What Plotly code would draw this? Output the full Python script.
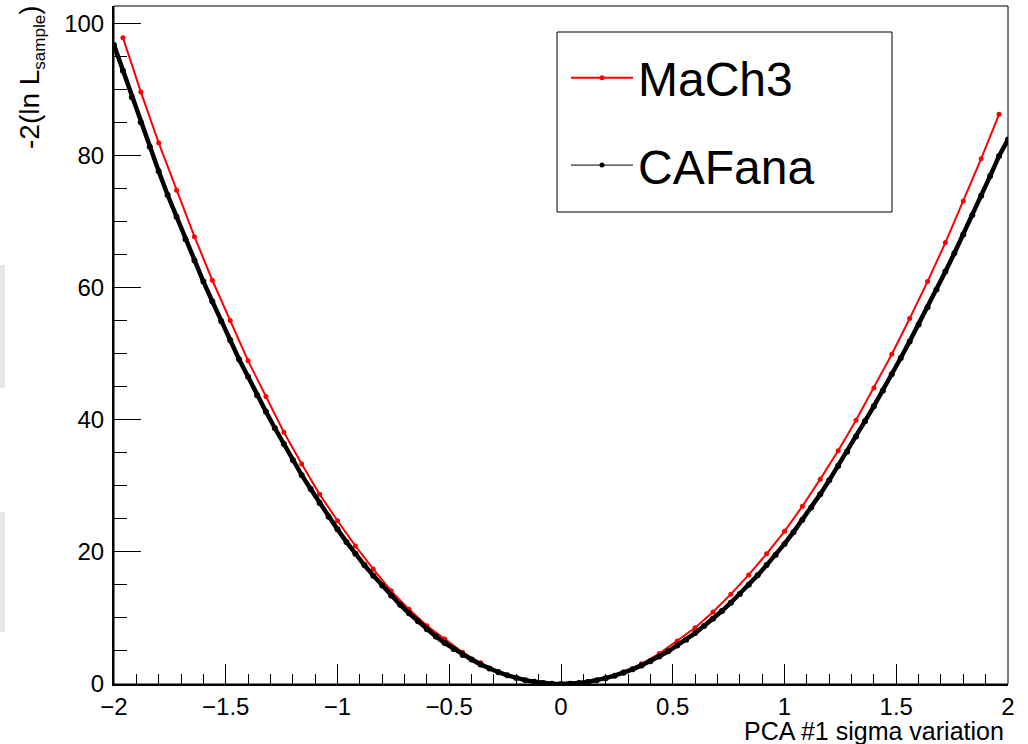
import plotly.graph_objects as go

# ---------------- data ----------------
# MaCh3: 50 bin centres from -1.96 to 1.96 (step 0.08)
mach3_x = [round(-1.96 + 0.08 * i, 2) for i in range(50)]
mach3_y = [97.8, 89.6, 81.9, 74.7, 67.7, 61.1, 55.0, 48.9, 43.5, 38.1,
           33.3, 28.7, 24.7, 20.9, 17.4, 14.1, 11.3, 8.8, 6.8, 4.8,
           3.2, 1.9, 0.97, 0.35, 0.04, 0.04, 0.34, 0.94, 1.84, 3.05,
           4.6, 6.5, 8.5, 10.9, 13.6, 16.5, 19.7, 23.1, 26.9, 31.0,
           35.3, 39.9, 44.8, 49.9, 55.3, 60.9, 66.8, 73.1, 79.5, 86.2]

# CAFana: points from -2 to 2 (step 0.04)
cafana_x = [round(-2.0 + 0.04 * i, 2) for i in range(101)]
cafana_y = [96.7, 92.8, 88.8, 85.0, 81.3, 77.6, 74.0, 70.7, 67.3, 64.1,
            60.9, 57.9, 54.9, 52.0, 49.1, 46.5, 43.7, 41.2, 38.7, 36.3,
            33.9, 31.6, 29.5, 27.4, 25.3, 23.4, 21.5, 19.7, 18.0, 16.4,
            14.9, 13.4, 12.0, 10.7, 9.5, 8.3, 7.2, 6.2, 5.3, 4.4,
            3.7, 2.95, 2.33, 1.78, 1.31, 0.90, 0.58, 0.33, 0.14, 0.04,
            0.0,
            0.035, 0.14, 0.32, 0.56, 0.88, 1.26, 1.71, 2.22, 2.81, 3.46,
            4.18, 4.95, 5.81, 6.71, 7.70, 8.77, 9.87, 11.04, 12.30, 13.63,
            15.03, 16.46, 17.99, 19.54, 21.2, 22.98, 24.84, 26.72, 28.73, 30.82,
            32.98, 35.14, 37.46, 39.77, 42.04, 44.38, 46.87, 49.33, 51.84, 54.4,
            57.02, 59.69, 62.42, 65.20, 68.04, 70.93, 73.87, 76.86, 79.91, 82.4]

series_names = ["MaCh3", "CAFana"]
x_tick_vals = [-2, -1.5, -1, -0.5, 0, 0.5, 1, 1.5, 2]
x_tick_text = ["\u22122", "\u22121.5", "\u22121", "\u22120.5", "0", "0.5", "1", "1.5", "2"]
y_tick_vals = [0, 20, 40, 60, 80, 100]
x_title = "PCA #1 sigma variation"
y_title = "-2(ln L<sub><span style='font-size:17px'>sample</span></sub>)"

FONT = "Liberation Sans, Arial, Helvetica, sans-serif"

# ---------------- geometry ----------------
W, H = 1028, 744
ML, MR, MT, MB = 114, 20, 6, 60
PW, PH = W - ML - MR, H - MT - MB


def px_x(p):
    return (p - ML) / PW


def px_y(p):
    return (H - MB - p) / PH


fig = go.Figure()

fig.add_trace(go.Scatter(
    x=mach3_x, y=mach3_y, mode="lines+markers", name=series_names[0],
    line=dict(color="#ff0000", width=2),
    marker=dict(color="#ff0000", size=5, symbol="circle"),
    legendgroup="a", showlegend=True,
))
fig.add_trace(go.Scatter(
    x=cafana_x, y=cafana_y, mode="lines+markers", name=series_names[1],
    line=dict(color="#000000", width=4.5),
    marker=dict(color="#000000", size=6, symbol="circle"),
    showlegend=False,
))
# legend proxy for CAFana (thin line + dot as in the reference legend)
fig.add_trace(go.Scatter(
    x=[None], y=[None], mode="lines+markers", name=series_names[1],
    line=dict(color="#000000", width=1),
    marker=dict(color="#000000", size=5),
    legendgroup="b", showlegend=True,
))

shapes = [
    dict(type="rect", xref="paper", yref="paper", x0=0, y0=0, x1=1, y1=1,
         line=dict(color="#000000", width=1), fillcolor="rgba(0,0,0,0)", layer="above"),
    dict(type="rect", xref="paper", yref="paper",
         x0=px_x(557), x1=px_x(892), y0=px_y(212), y1=px_y(32),
         line=dict(color="#000000", width=1), fillcolor="white", layer="below"),
    dict(type="rect", xref="paper", yref="paper",
         x0=px_x(0), x1=px_x(5), y0=px_y(388), y1=px_y(265),
         line=dict(width=0), fillcolor="#e3e7ec", layer="below"),
    dict(type="rect", xref="paper", yref="paper",
         x0=px_x(0), x1=px_x(5), y0=px_y(632), y1=px_y(512),
         line=dict(width=0), fillcolor="#e3e7ec", layer="below"),
]

annotations = [
    dict(text=x_title, xref="paper", yref="paper", x=px_x(1006), y=px_y(731),
         xanchor="right", yanchor="middle", showarrow=False,
         font=dict(family=FONT, size=25, color="#000000")),
    dict(text=y_title, xref="paper", yref="paper", x=px_x(31), y=px_y(3),
         xanchor="center", yanchor="top", textangle=-90, showarrow=False,
         font=dict(family=FONT, size=28, color="#000000")),
]

fig.update_layout(
    width=W, height=H,
    margin=dict(l=ML, r=MR, t=MT, b=MB, pad=0),
    paper_bgcolor="white", plot_bgcolor="white",
    font=dict(family=FONT, color="#000000"),
    shapes=shapes, annotations=annotations,
    showlegend=True,
    legend=dict(
        x=px_x(566), y=px_y(40), xanchor="left", yanchor="top",
        bgcolor="rgba(0,0,0,0)", borderwidth=0,
        font=dict(family=FONT, size=48, color="#000000"),
        itemwidth=62, tracegroupgap=22,
    ),
)

fig.update_xaxes(
    range=[-2, 2], showgrid=False, zeroline=False,
    showline=True, linecolor="#000000", linewidth=2, mirror=False,
    ticks="inside", ticklen=20, tickwidth=1, tickcolor="#000000",
    tickvals=x_tick_vals, ticktext=x_tick_text,
    tickfont=dict(family=FONT, size=24, color="#000000"),
    minor=dict(ticks="inside", ticklen=10, tickwidth=1, tickcolor="#000000", dtick=0.1, showgrid=False),
)
fig.update_yaxes(
    range=[0, 102.6], showgrid=False, zeroline=False,
    showline=True, linecolor="#000000", linewidth=2, mirror=False,
    ticks="inside", ticklen=27, tickwidth=1, tickcolor="#000000",
    tickvals=y_tick_vals, ticklabelstandoff=3,
    tickfont=dict(family=FONT, size=24, color="#000000"),
    minor=dict(ticks="inside", ticklen=13, tickwidth=1, tickcolor="#000000", dtick=5, showgrid=False),
)

fig.write_html(
    "out.html",
    config={"displayModeBar": False},
    post_script="document.body.style.margin='0';document.body.style.overflow='hidden';",
)
